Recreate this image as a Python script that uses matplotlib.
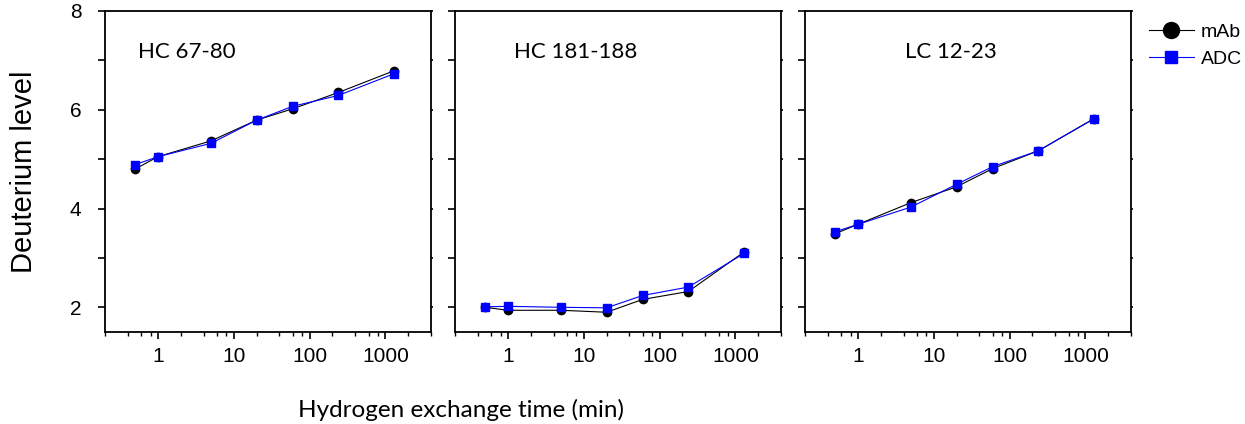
import matplotlib
matplotlib.use('Agg')
import matplotlib.pyplot as plt
from matplotlib.ticker import FixedLocator, LogLocator, NullFormatter, FuncFormatter

plt.rcParams['font.family'] = ['Liberation Sans', 'DejaVu Sans']

times = [0.5, 1, 5, 20, 60, 240, 1300]
peptides = ['HC 67-80', 'HC 181-188', 'LC 12-23']
title_x = [0.25, 0.37, 0.448]

mab_vals = [
    [4.80, 5.05, 5.37, 5.79, 6.02, 6.35, 6.79],
    [2.00, 1.94, 1.94, 1.90, 2.16, 2.32, 3.12],
    [3.49, 3.68, 4.12, 4.44, 4.81, 5.17, 5.82],
]
adc_vals = [
    [4.89, 5.05, 5.32, 5.79, 6.07, 6.29, 6.73],
    [2.01, 2.02, 2.00, 1.99, 2.24, 2.41, 3.09],
    [3.53, 3.68, 4.03, 4.49, 4.85, 5.17, 5.82],
]

fig = plt.figure(figsize=(12.45, 4.24), dpi=100)

left0 = 105 / 1245
w = 326 / 1245
step = 350 / 1245
bottom = 92 / 424
h = 321 / 424

axes = []
for i in range(3):
    ax = fig.add_axes([left0 + i * step, bottom, w, h])
    axes.append(ax)
    ax.plot(times, mab_vals[i], color='black', marker='o', markersize=6,
            linewidth=0.8, label='mAb')
    ax.plot(times, adc_vals[i], color='blue', marker='s', markersize=6,
            linewidth=0.8, label='ADC')
    ax.set_xscale('log')
    ax.set_xlim(0.2, 4000)
    ax.set_ylim(1.5, 8)
    ax.xaxis.set_major_locator(FixedLocator([1, 10, 100, 1000]))
    ax.xaxis.set_major_formatter(FuncFormatter(lambda v, p: f'{v:g}'))
    ax.xaxis.set_minor_locator(LogLocator(base=10, subs=(2, 4, 6, 8)))
    ax.xaxis.set_minor_formatter(NullFormatter())
    ax.yaxis.set_major_locator(FixedLocator([2, 3, 4, 5, 6, 7, 8]))
    if i == 0:
        ax.yaxis.set_major_formatter(
            FuncFormatter(lambda v, p: f'{int(v)}' if int(v) % 2 == 0 else ''))
    else:
        ax.yaxis.set_major_formatter(NullFormatter())
    for s in ax.spines.values():
        s.set_linewidth(1.3)
    ax.tick_params(axis='x', which='major', direction='out', length=5, width=1.2,
                   labelsize=15, pad=6)
    ax.tick_params(axis='x', which='minor', direction='out', length=3, width=1.0)
    ax.tick_params(axis='y', which='major', direction='out', length=5, width=1.2,
                   labelsize=15, left=True, right=True, pad=12)
    ax.tick_params(axis='y', which='minor', left=False, right=False)
    # right-hand ticks are only tiny stubs
    for t in ax.yaxis.get_major_ticks():
        t.tick2line.set_markersize(1.5)
    ax.text(title_x[i], 0.872, peptides[i], transform=ax.transAxes,
            ha='center', va='center', fontsize=16, family=['Lato', 'DejaVu Sans'])

axes[0].set_ylabel('Deuterium level', fontsize=21)
axes[0].yaxis.set_label_coords(-0.205, 0.5)
fig.text(461 / 1245, 1 - 410 / 424, 'Hydrogen exchange time (min)',
         ha='center', va='center', fontsize=17.5, family=['Lato', 'DejaVu Sans'])

lg = axes[2].legend(loc='upper left', bbox_to_anchor=(1.03, 0.985), frameon=False,
                    fontsize=14, handlelength=2.35, handletextpad=0.35,
                    labelspacing=0.45, borderaxespad=0)
lg.legend_handles[0].set_markersize(11.5)
lg.legend_handles[1].set_markersize(9)

fig.savefig('out.png', dpi=100)
